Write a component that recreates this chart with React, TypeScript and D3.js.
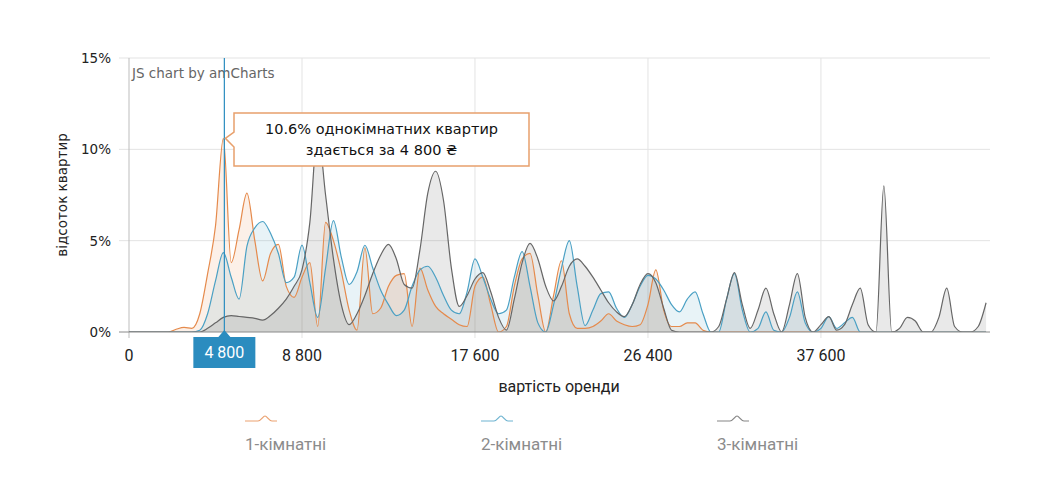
import React from 'react';
import * as d3 from 'd3';

// share of flats (%) per rent category
const oneRoom = [
  0, 0, 0, 0, 0, 0, 0.15, 0.25, 0.2, 1.0,
  3.2, 5.8, 10.6, 3.8, 5.6, 7.6, 5.0, 2.8, 4.3, 4.8,
  2.5, 1.9, 3.0, 3.8, 0.3, 6.0, 5.0, 3.3, 1.2, 0.1,
  4.6, 1.0, 1.3, 2.5, 3.1, 3.2, 0.3, 3.5, 2.3, 1.4,
  1.0, 0.7, 0.4, 0.3, 2.5, 3.0, 1.5, 0, 0.3, 2.5,
  4.0, 4.3, 2.0, 0, 2.0, 3.9, 1.0, 0.2, 0.2, 0.3,
  0.6, 1.0, 0.6, 0.4, 0.3, 0.4, 1.5, 3.4, 1.2, 0.3,
  0.3, 0.5, 0.5, 0.1, 0, 0, 0, 0, 0, 0,
  0, 0, 0, 0, 0, 0, 0, 0, 0, 0,
  0, 0, 0, 0, 0, 0, 0, 0, 0, 0,
  0, 0, 0, 0, 0, 0, 0, 0, 0, 0,
];

const twoRoom = [
  0, 0, 0, 0, 0, 0, 0, 0, 0, 0.1,
  1.0, 2.8, 4.35, 3.0, 1.8, 4.7, 5.7, 6.05, 5.4, 4.3,
  2.7, 3.0, 4.76, 2.7, 0.8, 3.5, 6.1, 4.1, 2.6, 3.3,
  4.75, 3.5, 2.3, 1.5, 0.9, 1.2, 2.5, 3.4, 3.6, 3.0,
  2.0, 1.2, 1.0, 2.2, 4.0, 3.0, 1.8, 1.0, 1.2, 3.0,
  4.4, 2.5, 0.5, 0, 1.5, 3.5, 5.0, 2.5, 0.35, 1.2,
  2.1, 2.2, 1.3, 0.8, 1.5, 2.5, 3.1, 2.9, 2.3, 1.5,
  1.1, 1.8, 2.2, 1.0, 0, 0, 1.8, 3.2, 1.2, 0,
  0.2, 1.1, 0.1, 0, 0.8, 2.2, 0.5, 0, 0.2, 0.84,
  0.2, 0.5, 0.8, 0, 0, 0, 0, 0, 0, 0,
  0, 0, 0, 0, 0, 0, 0, 0, 0, 0,
];

const threeRoom = [
  0, 0, 0, 0, 0, 0, 0, 0, 0, 0,
  0.2, 0.5, 0.8, 0.9, 0.85, 0.8, 0.75, 0.65, 0.9, 1.3,
  1.8, 2.5, 3.4, 6.0, 11.0, 7.5, 4.0, 1.5, 0.4, 1.0,
  2.0, 3.2, 4.2, 4.8, 4.0, 2.6, 2.4, 4.5, 7.6, 8.8,
  7.2, 3.5, 1.4, 2.0, 2.9, 3.25, 2.2, 0.8, 0.1, 1.8,
  3.8, 4.85, 4.0, 2.5, 1.7, 2.5, 3.6, 4.0, 3.6, 3.0,
  2.3, 1.6, 1.1, 0.84, 1.5, 2.6, 3.2, 2.7, 1.3, 0.1,
  0, 0, 0, 0, 0, 0.3, 1.8, 3.25, 1.5, 0.2,
  1.2, 2.4, 1.0, 0, 1.5, 3.2, 0.8, 0, 0.4, 0.84,
  0.1, 0.4, 1.5, 2.4, 0.4, 0, 8.0, 0, 0.2, 0.8,
  0.6, 0, 0, 0.8, 2.4, 0.3, 0, 0, 0.3, 1.6,
];

const xTickIndex = [0, 22, 44, 66, 88];
const xTickLabels = ['0', '8 800', '17 600', '26 400', '37 600'];
const yTicks = [0, 5, 10, 15];
const seriesNames = ['1-кімнатні', '2-кімнатні', '3-кімнатні'];
const seriesColors = ['#e58a4c', '#4aa0c4', '#666666'];
const cursorIndex = 12;
const cursorLabel = '4 800';
const tooltipLines = ['10.6% однокімнатних квартир', 'здається за 4 800 ₴'];

const W = 1048;
const H = 502;
const margin = { left: 129, right: 58, top: 58, bottom: 170 };

const App: React.FC = () => {
  const x = d3.scaleLinear().domain([0, 109.5]).range([margin.left, W - margin.right]);
  const y = d3.scaleLinear().domain([0, 15]).range([H - margin.bottom, margin.top]);

  const allSeries = [oneRoom, twoRoom, threeRoom];

  const area = d3.area<number>()
    .x((_, i) => x(i))
    .y0(y(0))
    .y1(d => y(d))
    .curve(d3.curveMonotoneX);
  const line = d3.line<number>()
    .x((_, i) => x(i))
    .y(d => y(d))
    .curve(d3.curveMonotoneX);

  const cx = x(cursorIndex) + 1;
  const legendX = [245, 481, 717];
  const sans = 'Roboto, "Noto Sans", sans-serif';
  const verdana = '"DejaVu Sans", Verdana, sans-serif';

  return (
    <svg width={W} height={H} style={{ position: 'absolute', left: 0, top: 0 }}>
      <rect width={W} height={H} fill="#fff" />
      <defs>
        <clipPath id="plot">
          <rect x={margin.left} y={margin.top - 20} width={W - margin.left - margin.right} height={y(0) - margin.top + 20} />
        </clipPath>
      </defs>

      {/* grid */}
      {yTicks.filter(t => t > 0).map(t => (
        <line key={'gy' + t} x1={margin.left - 10} x2={W - margin.right} y1={y(t)} y2={y(t)} stroke="#e3e3e3" />
      ))}
      {xTickIndex.filter(t => t > 0).map(t => (
        <line key={'gx' + t} x1={x(t)} x2={x(t)} y1={margin.top} y2={y(0) + 6} stroke="#e3e3e3" />
      ))}
      <line x1={margin.left} x2={margin.left} y1={margin.top} y2={y(0) + 6} stroke="#bdbdbd" />

      <text x={132} y={78} fontFamily={verdana} fontSize={13.5} fill="#666">JS chart by amCharts</text>

      {/* series */}
      <g clipPath="url(#plot)">
        {allSeries.map((s, k) => (
          <path key={'a' + k} d={area(s) || ''} fill={seriesColors[k]} fillOpacity={k === 2 ? 0.14 : 0.13} />
        ))}
        {allSeries.map((s, k) => (
          <path key={'l' + k} d={line(s) || ''} fill="none" stroke={seriesColors[k]} strokeWidth={1.2} />
        ))}
      </g>

      {/* x axis */}
      <line x1={margin.left - 10} x2={W - margin.right} y1={y(0)} y2={y(0)} stroke="#8a8a8a" />
      {xTickIndex.map((t, i) => (
        <text key={'xt' + t} x={x(t)} y={361} textAnchor="middle" fontFamily={sans} fontSize={16} fill="#222">
          {xTickLabels[i]}
        </text>
      ))}
      <text x={559} y={392} textAnchor="middle" fontFamily={sans} fontSize={16} fill="#222">вартість оренди</text>

      {/* y axis */}
      {yTicks.map(t => (
        <text key={'yt' + t} x={111} y={y(t)} dy="0.36em" textAnchor="end" fontFamily={verdana} fontSize={13.5} fill="#222">
          {t}%
        </text>
      ))}
      <text transform="translate(67,195) rotate(-90)" textAnchor="middle" fontFamily={verdana} fontSize={13.5} fill="#222">
        відсоток квартир
      </text>

      {/* cursor */}
      <line x1={cx} x2={cx} y1={margin.top} y2={y(0)} stroke="#2b8cbf" strokeWidth={1.2} />
      <path d={`M${cx - 31},337 H${cx - 6} L${cx},330 L${cx + 6},337 H${cx + 31} V368 H${cx - 31} Z`} fill="#2b8cbf" />
      <text x={cx} y={358} textAnchor="middle" fontFamily={sans} fontSize={16} fill="#fff">{cursorLabel}</text>

      {/* tooltip */}
      <path d={`M234,113 H529 V166 H234 V147 L${cx + 1},${y(oneRoom[cursorIndex])} L234,132 Z`} fill="#fff" stroke="#e8a06c" strokeWidth={1.5} />
      {tooltipLines.map((t, i) => (
        <text key={'tt' + i} x={381.5} y={134 + i * 21} textAnchor="middle" fontFamily={verdana} fontSize={14.5} fill="#111">
          {t}
        </text>
      ))}

      {/* legend */}
      {seriesNames.map((n, k) => (
        <g key={'lg' + k} transform={`translate(${legendX[k]},0)`}>
          <path d="M0,421 H13 C16,421 18,416 20,416 C22,416 24,421 27,421 H32" fill="none" stroke={seriesColors[k]} strokeOpacity={0.8} strokeWidth={1.2} />
          <text x={0} y={450} fontFamily={sans} fontSize={17} fill="#8c8c8c">{n}</text>
        </g>
      ))}
    </svg>
  );
};

export default App;
